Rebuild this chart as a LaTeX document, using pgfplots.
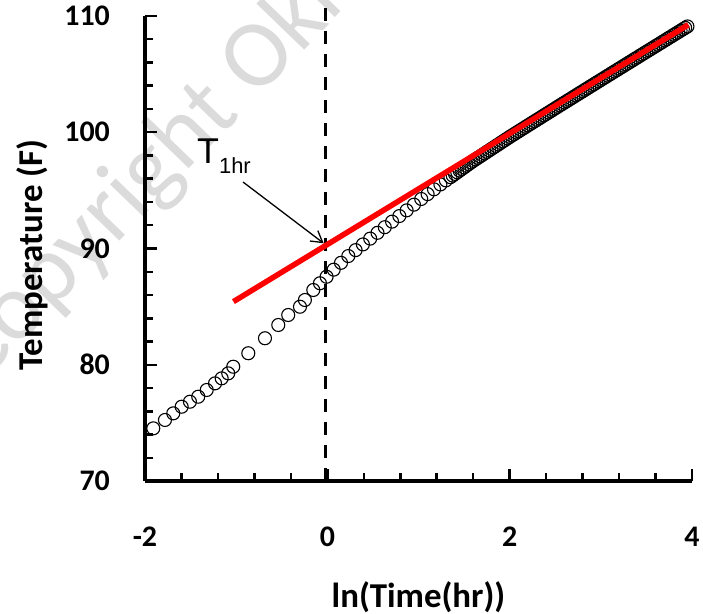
\documentclass[border=0pt]{standalone}
\usepackage{fontspec}
\setmainfont{Carlito}
\newfontfamily\arialfont{Liberation Sans}
\usepackage{pgfplots}
\pgfplotsset{compat=1.18}
\usepackage{pgfplotstable}
\usetikzlibrary{arrows.meta}

% Measured temperatures against ln(time in hours)
\pgfplotstableread{
x y
-1.909 74.53
-1.781 75.25
-1.690 75.82
-1.598 76.39
-1.507 76.82
-1.416 77.25
-1.323 77.83
-1.232 78.40
-1.159 78.83
-1.087 79.26
-1.032 79.83
-0.867 80.99
-0.684 82.28
-0.538 83.42
-0.429 84.28
-0.300 84.99
-0.246 85.57
-0.154 86.43
-0.081 87.01
-0.008 87.57
0.07 88.18
0.15 88.77
0.23 89.35
0.31 89.86
0.39 90.35
0.47 90.85
0.55 91.35
0.63 91.83
0.71 92.31
0.79 92.79
0.87 93.28
0.95 93.77
1.03 94.26
1.10 94.68
1.17 95.09
1.24 95.51
1.30 95.86
1.350 96.136
1.375 96.275
1.400 96.415
1.425 96.556
1.450 96.696
1.475 96.836
1.500 96.977
1.525 97.117
1.550 97.256
1.575 97.397
1.600 97.537
1.625 97.665
1.650 97.794
1.675 97.923
1.700 98.052
1.725 98.180
1.750 98.309
1.775 98.438
1.800 98.566
1.825 98.695
1.850 98.824
1.875 98.952
1.900 99.081
1.925 99.210
1.950 99.338
1.975 99.468
2.000 99.596
2.025 99.719
2.050 99.843
2.075 99.966
2.100 100.089
2.125 100.213
2.150 100.336
2.175 100.459
2.200 100.583
2.225 100.706
2.250 100.829
2.275 100.953
2.300 101.076
2.325 101.199
2.350 101.323
2.375 101.446
2.400 101.569
2.425 101.693
2.450 101.816
2.475 101.939
2.500 102.063
2.525 102.184
2.550 102.306
2.575 102.428
2.600 102.550
2.625 102.672
2.650 102.793
2.675 102.915
2.700 103.037
2.725 103.159
2.750 103.281
2.775 103.403
2.800 103.524
2.825 103.646
2.850 103.768
2.875 103.890
2.900 104.012
2.925 104.133
2.950 104.255
2.975 104.377
3.000 104.499
3.025 104.620
3.050 104.742
3.075 104.863
3.100 104.984
3.125 105.106
3.150 105.227
3.175 105.348
3.200 105.470
3.225 105.591
3.250 105.712
3.275 105.834
3.300 105.955
3.325 106.076
3.350 106.198
3.375 106.319
3.400 106.440
3.425 106.562
3.450 106.683
3.475 106.804
3.500 106.926
3.525 107.047
3.550 107.167
3.575 107.289
3.600 107.410
3.625 107.530
3.650 107.652
3.675 107.773
3.700 107.893
3.725 108.015
3.750 108.136
3.775 108.256
3.800 108.377
3.825 108.499
3.850 108.619
3.875 108.740
3.900 108.862
3.925 108.982
3.950 109.103
}\tempdata

% Semilog straight-line fit
\pgfplotstableread{
x y
-1.03 85.43
3.96 109.25
}\fitline

\begin{document}
\begin{tikzpicture}
\useasboundingbox (-145bp,-133bp) rectangle (558bp,481bp);

% watermark
\node[rotate=46, anchor=base west, inner sep=0pt, text=black!14,
      font=\fontsize{96}{96}\selectfont] at (-165bp,95bp) {Copyright Oki};

\begin{axis}[
  scale only axis,
  width=547bp, height=465bp,
  xmin=-2, xmax=4, ymin=70, ymax=110,
  axis x line=bottom, axis y line=left,
  axis line style={-, line width=4bp},
  xtick={-2,0,2,4}, ytick={70,80,90,100,110},
  minor x tick num=4, minor y tick num=4,
  xtick align=inside, ytick align=inside,
  major tick length=12bp, minor tick length=8bp,
  every tick/.style={black, line width=2.5bp},
  /pgf/number format/assume math mode=true,
  ticklabel style={font=\bfseries\fontsize{30}{30}\selectfont, inner sep=0pt},
  xticklabel style={anchor=base, yshift=-65bp},
  yticklabel style={anchor=east, xshift=-35bp},
  xlabel={ln(Time(hr))},
  ylabel={Temperature (F)},
  every axis x label/.style={at={(axis description cs:0.5,-0.271)}, anchor=base,
    font=\bfseries\fontsize{35}{35}\selectfont},
  every axis y label/.style={at={(axis description cs:-0.188,0.486)}, rotate=90, anchor=base,
    font=\bfseries\fontsize{35}{35}\selectfont},
  clip=false,
  clip marker paths=true,
]
\addplot[only marks, mark=o, mark size=6.5bp,
  mark options={black, line width=1.1bp}] table {\tempdata};
\addplot[black, line width=3.3bp, dash pattern=on 13bp off 10bp]
  coordinates {(-0.02,70) (-0.02,111.4)};
\addplot[red, line width=5.5bp] table {\fitline};
\draw[-{Straight Barb[length=11bp, width=13bp]}, line width=1.3bp]
  (axis cs:-0.925,95.72) -- (axis cs:-0.04,90.45);
\node[anchor=base west, inner sep=0pt, font=\arialfont\fontsize{36}{36}\selectfont]
  at (axis cs:-1.43,97.35) {T\raisebox{-10bp}{\fontsize{22}{22}\selectfont 1hr}};
\end{axis}
\end{tikzpicture}
\end{document}
